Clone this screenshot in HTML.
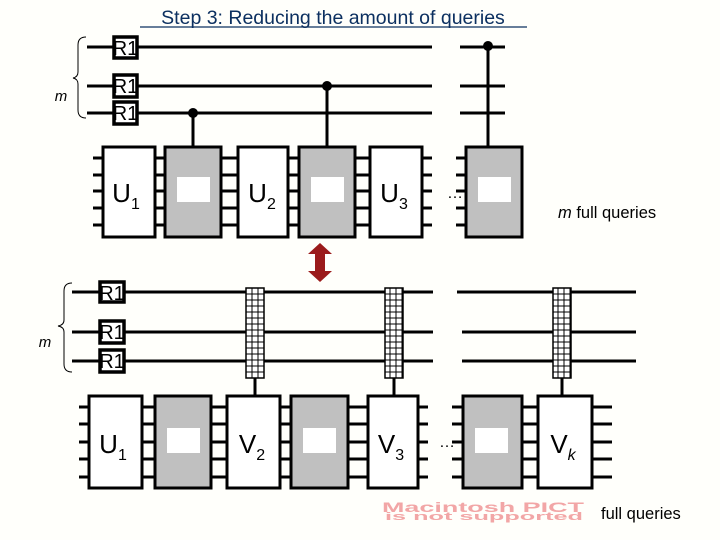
<!DOCTYPE html>
<html><head><meta charset="utf-8"><style>
html,body{margin:0;padding:0;background:#fffffb;}
svg{display:block;font-family:"Liberation Sans",sans-serif;}
</style></head><body>
<svg width="720" height="540" viewBox="0 0 720 540" xmlns="http://www.w3.org/2000/svg">
<rect width="720" height="540" fill="#fffffb"/>
<text x="333" y="24" font-size="19.5" fill="#0c3060" text-anchor="middle">Step 3: Reducing the amount of queries</text>
<line x1="140" y1="27" x2="527" y2="27" stroke="#0c3060" stroke-width="1.3"/>

<g stroke="#000" stroke-width="3">
<line x1="87" y1="47" x2="432" y2="47"/><line x1="460" y1="47" x2="505" y2="47"/>
<line x1="87" y1="86" x2="432" y2="86"/><line x1="460" y1="86" x2="505" y2="86"/>
<line x1="87" y1="113" x2="432" y2="113"/><line x1="460" y1="113" x2="505" y2="113"/>
<line x1="93" y1="158" x2="432" y2="158"/><line x1="93" y1="175" x2="432" y2="175"/><line x1="93" y1="191" x2="432" y2="191"/><line x1="93" y1="208" x2="432" y2="208"/><line x1="93" y1="225" x2="432" y2="225"/>
<line x1="456" y1="158" x2="466" y2="158"/><line x1="456" y1="175" x2="466" y2="175"/><line x1="456" y1="191" x2="466" y2="191"/><line x1="456" y1="208" x2="466" y2="208"/><line x1="456" y1="225" x2="466" y2="225"/>
<line x1="193" y1="113" x2="193" y2="147"/>
<line x1="327" y1="86" x2="327" y2="147"/>
<line x1="488" y1="47" x2="488" y2="147"/>
</g>
<circle cx="193" cy="113" r="5" fill="#000"/>
<circle cx="327" cy="86" r="5" fill="#000"/>
<circle cx="488" cy="46" r="5" fill="#000"/>
<g stroke="#000" stroke-width="3.5" fill="#fff">
<rect x="114" y="37" width="23" height="21"/>
<rect x="114" y="75" width="23" height="22"/>
<rect x="114" y="102" width="23" height="22"/>
</g>
<g font-size="20" text-anchor="middle">
<text x="125.5" y="55">R1</text><text x="125.5" y="93">R1</text><text x="125.5" y="120">R1</text>
</g>
<path d="M86,37 Q78,37 78,45 L78,72 Q78,77 73,78 Q78,79 78,84 L78,110 Q78,118 86,118" fill="none" stroke="#000" stroke-width="1"/>
<text x="61" y="101" font-size="15" font-style="italic" text-anchor="middle">m</text>

<g stroke="#000" stroke-width="3">
<rect x="103" y="147" width="52" height="90" fill="#fff"/>
<rect x="165" y="147" width="56" height="90" fill="#c0c0c0"/>
<rect x="238" y="147" width="50" height="90" fill="#fff"/>
<rect x="299" y="147" width="56" height="90" fill="#c0c0c0"/>
<rect x="370" y="147" width="52" height="90" fill="#fff"/>
<rect x="466" y="147" width="56" height="90" fill="#c0c0c0"/>
</g>
<g fill="#fff"><rect x="177" y="177" width="33" height="25"/><rect x="311" y="177" width="33" height="25"/><rect x="478" y="177" width="33" height="25"/></g>
<g font-size="26" text-anchor="middle">
<text x="126" y="202">U<tspan font-size="16" dy="7">1</tspan></text>
<text x="262" y="202">U<tspan font-size="16" dy="7">2</tspan></text>
<text x="394" y="202">U<tspan font-size="16" dy="7">3</tspan></text>
</g>
<text x="455" y="198" font-size="16" text-anchor="middle">…</text>
<text x="558" y="218" font-size="16.5"><tspan font-style="italic">m</tspan> full queries</text>

<path d="M320,243 L332,254 L325,254 L325,271 L332,271 L320,282 L308,271 L315,271 L315,254 L308,254 Z" fill="#9b1b1b"/>

<g stroke="#000" stroke-width="3">
<line x1="72" y1="292" x2="433" y2="292"/><line x1="457" y1="292" x2="636" y2="292"/>
<line x1="72" y1="332" x2="433" y2="332"/><line x1="462" y1="332" x2="636" y2="332"/>
<line x1="72" y1="361" x2="433" y2="361"/><line x1="462" y1="361" x2="636" y2="361"/>
<line x1="79" y1="407" x2="428" y2="407"/><line x1="79" y1="424" x2="428" y2="424"/><line x1="79" y1="442" x2="428" y2="442"/><line x1="79" y1="459" x2="428" y2="459"/><line x1="79" y1="477" x2="428" y2="477"/>
<line x1="452" y1="407" x2="612" y2="407"/><line x1="452" y1="424" x2="612" y2="424"/><line x1="452" y1="442" x2="612" y2="442"/><line x1="452" y1="459" x2="612" y2="459"/><line x1="452" y1="477" x2="612" y2="477"/>
<line x1="255" y1="378" x2="255" y2="396"/>
<line x1="394" y1="378" x2="394" y2="396"/>
<line x1="562" y1="378" x2="562" y2="396"/>
</g>
<defs>
<pattern id="g" width="6" height="6" patternUnits="userSpaceOnUse"><rect width="6" height="6" fill="#fff" stroke="#000" stroke-width="1"/></pattern>
</defs>
<g stroke="#000" stroke-width="1.5" fill="url(#g)">
<rect x="246" y="288" width="18" height="90"/>
<rect x="385" y="288" width="18" height="90"/>
<rect x="553" y="288" width="18" height="90"/>
</g>
<g stroke="#000" stroke-width="3.5" fill="#fff">
<rect x="100" y="282" width="24" height="20"/>
<rect x="100" y="321" width="24" height="22"/>
<rect x="100" y="350" width="24" height="22"/>
</g>
<g font-size="20" text-anchor="middle">
<text x="112" y="300">R1</text><text x="112" y="339">R1</text><text x="112" y="368">R1</text>
</g>
<path d="M72,283 Q64,283 64,291 L64,320 Q64,325 58,326 Q64,327 64,332 L64,364 Q64,372 72,372" fill="none" stroke="#000" stroke-width="1"/>
<text x="45" y="347" font-size="15" font-style="italic" text-anchor="middle">m</text>

<g stroke="#000" stroke-width="3">
<rect x="89" y="396" width="53" height="92" fill="#fff"/>
<rect x="155" y="396" width="56" height="92" fill="#c0c0c0"/>
<rect x="227" y="396" width="53" height="92" fill="#fff"/>
<rect x="291" y="396" width="57" height="92" fill="#c0c0c0"/>
<rect x="368" y="396" width="50" height="92" fill="#fff"/>
<rect x="463" y="396" width="59" height="92" fill="#c0c0c0"/>
<rect x="538" y="396" width="54" height="92" fill="#fff"/>
</g>
<g fill="#fff"><rect x="167" y="428" width="33" height="25"/><rect x="303" y="428" width="33" height="25"/><rect x="475" y="428" width="33" height="25"/></g>
<g font-size="26" text-anchor="middle">
<text x="113" y="453">U<tspan font-size="16" dy="7">1</tspan></text>
<text x="252" y="453">V<tspan font-size="16" dy="7">2</tspan></text>
<text x="391" y="453">V<tspan font-size="16" dy="7">3</tspan></text>
<text x="563" y="453">V<tspan font-size="16" font-style="italic" dy="7">k</tspan></text>
</g>
<text x="447" y="447" font-size="16" text-anchor="middle">…</text>
<text x="382" y="512" font-size="14" font-weight="bold" fill="#f2a6a6" textLength="202" lengthAdjust="spacingAndGlyphs">Macintosh PICT</text>
<text x="385" y="520" font-size="11" font-weight="bold" fill="#f2a6a6" textLength="198" lengthAdjust="spacingAndGlyphs">is not supported</text>
<text x="601" y="519" font-size="16.5">full queries</text>
</svg>
</body></html>
